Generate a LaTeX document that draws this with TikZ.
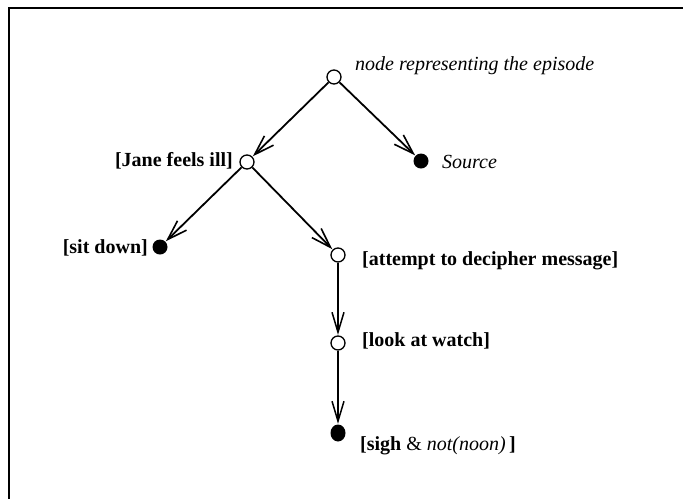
\documentclass[tikz,border=0pt]{standalone}
\usepackage{fontspec}
\setmainfont{Liberation Serif}
\usetikzlibrary{arrows.meta,shapes.geometric}
\begin{document}
\begin{tikzpicture}[x=1pt,y=-1pt,
  open/.style={circle,draw,line width=1.3pt,fill=white,minimum size=14pt,inner sep=0pt},
  full/.style={circle,fill=black,minimum size=15pt,inner sep=0pt},
  lab/.style={inner sep=0pt,font=\fontsize{20}{24}\selectfont},
  edge/.style={line width=1.8pt,-{Straight Barb[length=20pt,width=13pt,line width=1.6pt]},shorten >=0.5pt},
  vedge/.style={line width=1.2pt,-{Straight Barb[length=20pt,width=12pt,line width=1.5pt]},shorten >=0.5pt}]
\useasboundingbox (0,0) rectangle (683,499);
% frame
\draw[line width=1.5pt] (683,8) -- (9,8) -- (9,499);
% nodes
\node[open] (root) at (334,77) {};
\node[open] (jane) at (247,162) {};
\node[full] (src) at (421,161) {};
\node[full] (sit) at (160,247) {};
\node[open] (att) at (338,255) {};
\node[open] (look) at (338,343) {};
\node[ellipse,fill=black,minimum width=15pt,minimum height=17pt,inner sep=0pt] (sigh) at (338,433) {};
% labels
\node[lab,anchor=base west] (troot) at (355,70) {\textit{node representing the episode}};
\node[lab,anchor=base west] (tsrc) at (442,168) {\textit{Source}};
\node[lab,anchor=base east] (tjane) at (233,166) {\textbf{[Jane feels ill]}};
\node[lab,anchor=base east] (tsit) at (148,253) {\textbf{[sit down]}};
\node[lab,anchor=base west] (tatt) at (362,265) {\textbf{[attempt to decipher message]}};
\node[lab,anchor=base west] (tlook) at (362,346) {\textbf{[look at watch]}};
\node[lab,anchor=base west] (tsigh) at (360,450) {\textbf{[sigh} \& \textit{not(noon)}\,\textbf{]}};
% edges
\draw[edge] (root) -- (jane);
\draw[edge] (root) -- (src);
\draw[edge] (jane) -- (sit);
\draw[edge] (jane) -- (att);
\draw[vedge] (att) -- (look);
\draw[vedge] (look) -- (sigh);
\end{tikzpicture}
\end{document}
